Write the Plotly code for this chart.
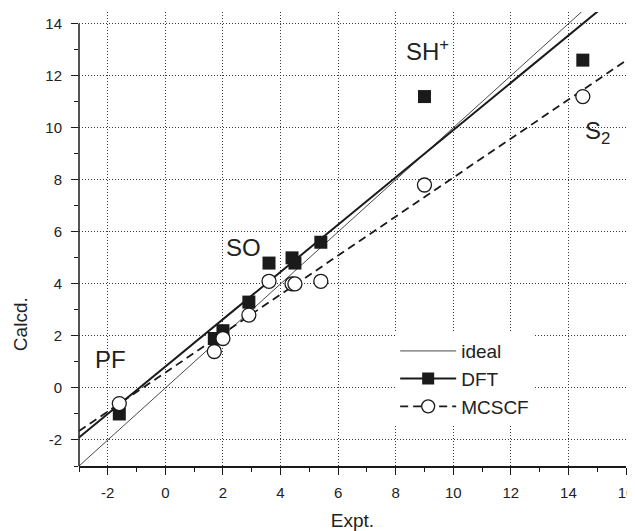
import numpy as np
import plotly.graph_objects as go

# ---------------- data ----------------
expt = [-1.6, 1.7, 2.0, 2.9, 3.6, 4.4, 4.5, 5.4, 9.0, 14.5]
dft = [-1.0, 1.9, 2.2, 3.3, 4.8, 5.0, 4.8, 5.6, 11.2, 12.6]
mcscf = [-0.6, 1.4, 1.9, 2.8, 4.1, 4.0, 4.0, 4.1, 7.8, 11.2]

x_tickvals = [-2, 0, 2, 4, 6, 8, 10, 12, 14, 16]
x_ticktext = ["-2", "0", "2", "4", "6", "8", "10", "12", "14", "16"]
y_tickvals = [-2, 0, 2, 4, 6, 8, 10, 12, 14]
y_ticktext = ["-2", "0", "2", "4", "6", "8", "10", "12", "14"]

x_range = [-3, 16]
y_range = [-3, 14]

# labels of molecules (text, x, y)
labels = [
    ("PF", -1.9, 1.1),
    ("SO", 2.7, 5.4),
    ("SH<sup>+</sup>", 8.3, 13.0),
    ("S<sub>2</sub>", 14.5, 9.8),
]

# ---------------- figure ----------------
PAGE_OFFSET = 8  # default body margin of the html page
W, H = 635 - PAGE_OFFSET, 531 - PAGE_OFFSET
overshoot = 0.45  # fitted lines run slightly above the top of the axes
ML, MR, MT, MB = 79 - PAGE_OFFSET, 9, 24 - PAGE_OFFSET - round(overshoot * 26), 65

FONT = "Liberation Sans, Arial, sans-serif"
INK = "#1a1a1a"
GRID = "#3a3a3a"
GRID_DASH = "1px,2px"

x_line = np.array(x_range, dtype=float)
p_dft = np.polyfit(expt, dft, 1)
p_mc = np.polyfit(expt, mcscf, 1)

fig = go.Figure()

# ideal line
fig.add_trace(go.Scatter(x=x_line, y=x_line, mode="lines",
                         line=dict(color=INK, width=0.8),
                         showlegend=False, hoverinfo="skip"))
# DFT fit
fig.add_trace(go.Scatter(x=x_line, y=np.polyval(p_dft, x_line), mode="lines",
                         line=dict(color=INK, width=2),
                         showlegend=False, hoverinfo="skip"))
# DFT points
fig.add_trace(go.Scatter(x=expt, y=dft, mode="markers",
                         marker=dict(symbol="square", size=13, color=INK, line=dict(width=0)),
                         showlegend=False))
# MCSCF fit
fig.add_trace(go.Scatter(x=x_line, y=np.polyval(p_mc, x_line), mode="lines",
                         line=dict(color=INK, width=1.8, dash="8px,5px"),
                         showlegend=False, hoverinfo="skip"))
# MCSCF points
fig.add_trace(go.Scatter(x=expt, y=mcscf, mode="markers",
                         marker=dict(symbol="circle", size=14, color="white",
                                     line=dict(width=1.3, color=INK)),
                         showlegend=False))

# legend entries
fig.add_trace(go.Scatter(x=[None], y=[None], mode="lines", name="ideal",
                         line=dict(color=INK, width=0.8)))
fig.add_trace(go.Scatter(x=[None], y=[None], mode="lines+markers", name="DFT",
                         line=dict(color=INK, width=2),
                         marker=dict(symbol="square", size=12, color=INK)))
fig.add_trace(go.Scatter(x=[None], y=[None], mode="lines+markers", name="MCSCF",
                         line=dict(color=INK, width=1.8, dash="8px,5px"),
                         marker=dict(symbol="circle", size=13, color="white",
                                     line=dict(width=1.3, color=INK))))

axis_common = dict(
    ticks="outside", ticklen=7, tickwidth=1.3, tickcolor=INK,
    tickfont=dict(family=FONT, size=15, color="#222"),
    showgrid=True, gridcolor=GRID, gridwidth=1, griddash=GRID_DASH,
    zeroline=False, automargin=False,
    minor=dict(ticks="outside", ticklen=4, tickwidth=1.2, tickcolor=INK,
               dtick=1, tick0=0, showgrid=False),
)

fig.update_layout(
    template="none",
    width=W, height=H,
    margin=dict(l=ML, r=MR, t=MT, b=MB),
    paper_bgcolor="white", plot_bgcolor="white",
    font=dict(family=FONT, color="#222"),
    xaxis=dict(range=x_range,
               tickmode="array", tickvals=x_tickvals, ticktext=x_ticktext,
               ticklabelstandoff=5,
               showline=True, linecolor=INK, linewidth=1.5,
               title=dict(text="Expt.", font=dict(family=FONT, size=19, color="#222"),
                          standoff=14),
               **axis_common),
    yaxis=dict(range=[y_range[0], y_range[1] + overshoot],
               tickmode="array", tickvals=y_tickvals, ticktext=y_ticktext,
               ticklabelstandoff=6, showline=False,
               **axis_common),
    legend=dict(x=0.578, y=0.295, xanchor="left", yanchor="top",
                bgcolor="white", borderwidth=0, itemwidth=56,
                font=dict(family=FONT, size=19, color="#222")),
    showlegend=True,
    shapes=[
        # no grid at / above the top tick (drawn below the traces)
        dict(type="rect", xref="paper", x0=0, x1=1, yref="y",
             y0=y_range[1] - 0.05, y1=y_range[1] + overshoot,
             fillcolor="white", line=dict(width=0), layer="between"),
        # left axis line, ending at the top tick
        dict(type="line", xref="paper", x0=0, x1=0, yref="y",
             y0=y_range[0], y1=y_range[1], line=dict(color=INK, width=1.5),
             layer="above"),
    ],
)

for text, lx, ly in labels:
    fig.add_annotation(x=lx, y=ly, xref="x", yref="y", text=text, showarrow=False,
                       xanchor="left" if text.startswith(("SH", "S<")) else "center",
                       yanchor="middle",
                       font=dict(family=FONT, size=24, color="#222"))

fig.add_annotation(x=-0.108, y=2.45, xref="paper", yref="y", text="Calcd.",
                   textangle=-90, showarrow=False, xanchor="center", yanchor="middle",
                   font=dict(family=FONT, size=19, color="#222"))

fig.write_html("out.html")
